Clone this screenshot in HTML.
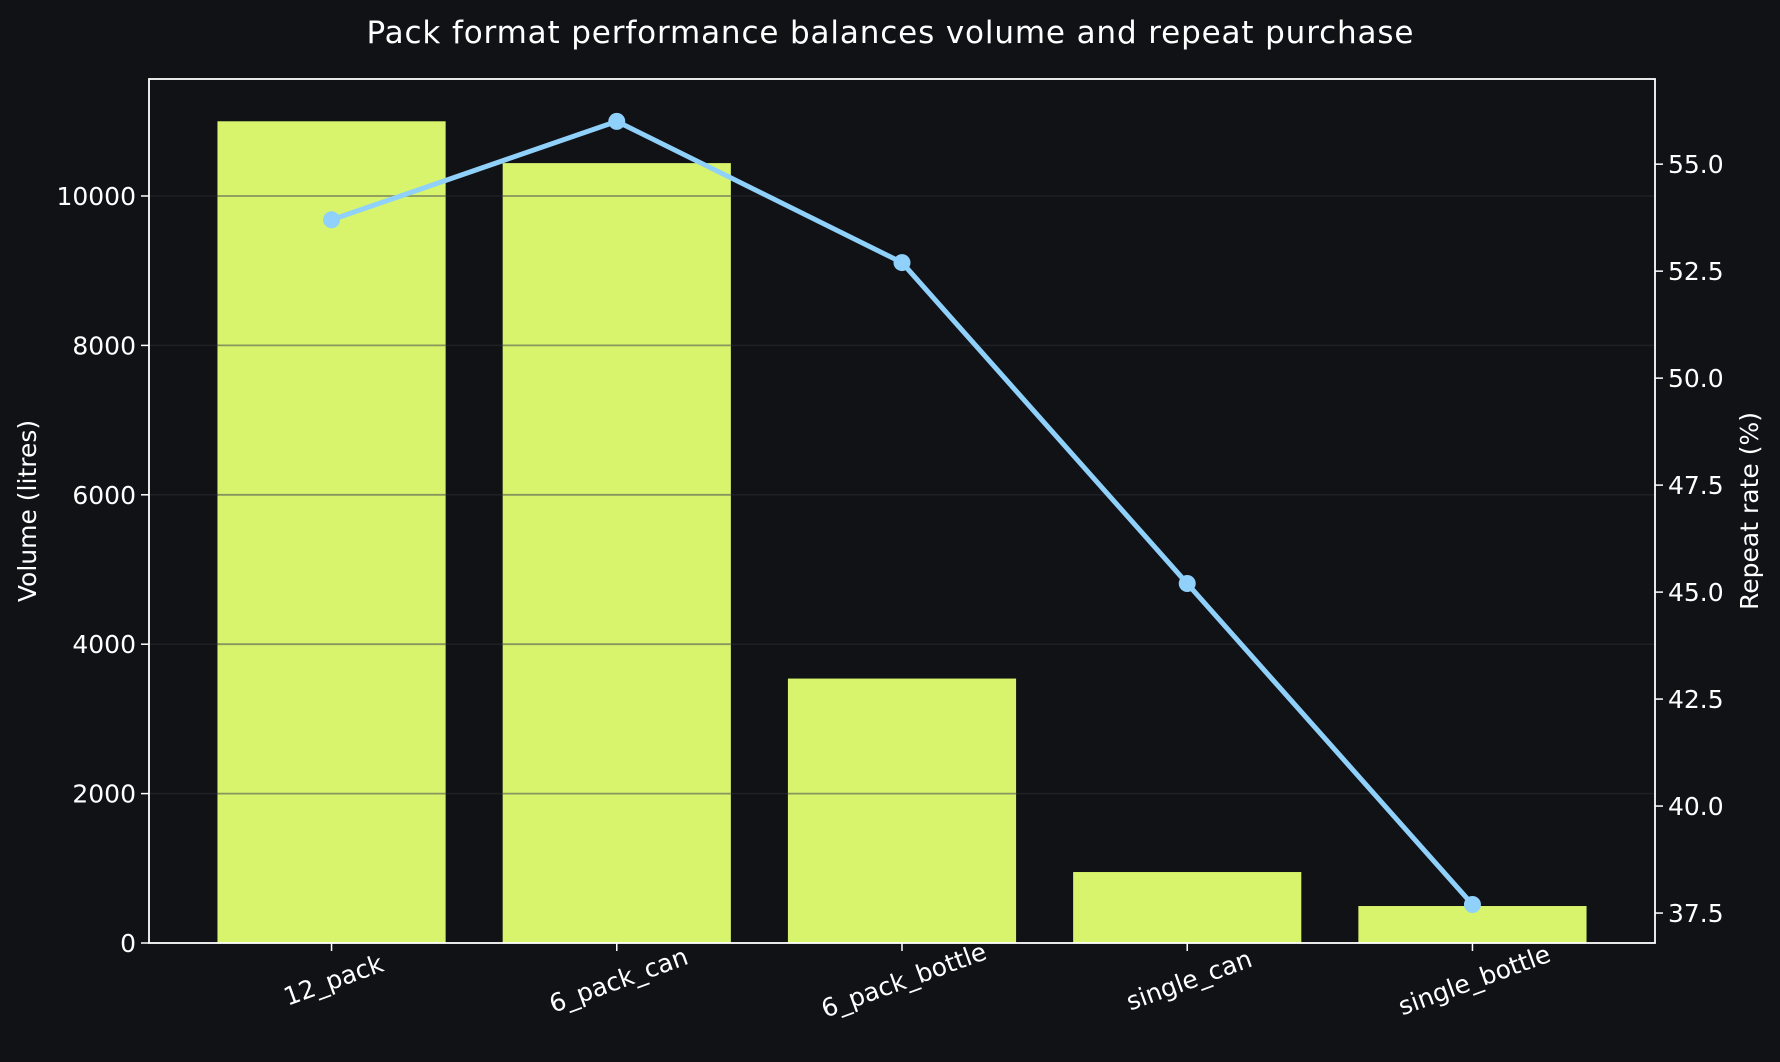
<!DOCTYPE html>
<html><head><meta charset="utf-8"><style>
html,body{margin:0;padding:0;background:#111216;}
svg{display:block;font-family:"DejaVu Sans","Liberation Sans",sans-serif;}
</style></head><body>
<svg id="chart" width="1780" height="1062" viewBox="0 0 1780 1062">
<rect width="1780" height="1062" fill="#111216"/>
<text x="890" y="43" text-anchor="middle" font-size="31" fill="#ffffff" textLength="1047">Pack format performance balances volume and repeat purchase</text>
<g id="grid"></g><g id="bars"></g><g id="gridover"></g><g id="line"></g><g id="axes"></g>
<text transform="translate(36,511) rotate(-90)" text-anchor="middle" font-size="25" fill="#ffffff">Volume (litres)</text>
<text transform="translate(1758,511) rotate(-90)" text-anchor="middle" font-size="25" fill="#ffffff">Repeat rate (%)</text>
</svg>
<script>
const categories=["12_pack","6_pack_can","6_pack_bottle","single_can","single_bottle"];
const volume=[11000,10440,3540,950,495];
const repeatRate=[53.7,56.0,52.7,45.2,37.7];
const leftTicks=[0,2000,4000,6000,8000,10000];
const rightTicks=[37.5,40.0,42.5,45.0,47.5,50.0,52.5,55.0];

const L=149,R=1655,T=79,B=943;
const NS="http://www.w3.org/2000/svg";
const xS=i=>L+(i+0.64)*(R-L)/5.28;
const yL=v=>B-(v/11566)*(B-T);
const yR=v=>B-((v-36.8)/(56.99-36.8))*(B-T);
const bw=0.8*(R-L)/5.28;
function mk(tag,attrs,parent,text){const e=document.createElementNS(NS,tag);for(const k in attrs)e.setAttribute(k,attrs[k]);if(text!==undefined)e.textContent=text;document.getElementById(parent).appendChild(e);return e;}

leftTicks.forEach(v=>{
  const g=mk('line',{x1:L,x2:R,y1:yL(v),y2:yL(v),stroke:'#1f2025','stroke-width':1.5},'grid');
  
  
});
categories.forEach((c,i)=>{
  const r=mk('rect',{x:xS(i)-bw/2,y:yL(volume[i]),width:bw,height:B-yL(volume[i]),fill:'#d7f46c'},'bars');
  
  
});
categories.forEach((c,i)=>{
  leftTicks.forEach(v=>{
    if(v===0||v>volume[i])return;
    const g=mk('line',{x1:xS(i)-bw/2,x2:xS(i)+bw/2,y1:yL(v),y2:yL(v),stroke:'#555', 'stroke-opacity':0.6,'stroke-width':1.8},'gridover');
    
    
  });
});
const pts=repeatRate.map((v,i)=>xS(i)+','+yR(v)).join(' ');
const pl=mk('polyline',{points:pts,fill:'none',stroke:'#8fd1fb','stroke-width':5,'stroke-linejoin':'round'},'line');


repeatRate.forEach((v,i)=>{
  const c=mk('circle',{cx:xS(i),cy:yR(v),r:8.5,fill:'#8fd1fb'},'line');
  
  
});
const fr=mk('rect',{x:L,y:T,width:R-L,height:B-T,fill:'none',stroke:'#ffffff','stroke-width':1.8},'axes');


leftTicks.forEach(v=>{
  const y=yL(v);
  const t=mk('line',{x1:L-8,x2:L,y1:y,y2:y,stroke:'#fff','stroke-width':1.5},'axes');
  
  
  const tx=mk('text',{x:L-13,y:y+9,'text-anchor':'end','font-size':25,fill:'#fff'},'axes',String(v));
  
  
});
rightTicks.forEach(v=>{
  const y=yR(v);
  const t=mk('line',{x1:R,x2:R+8,y1:y,y2:y,stroke:'#fff','stroke-width':1.5},'axes');
  
  
  const tx=mk('text',{x:R+13,y:y+9,'text-anchor':'start','font-size':25,fill:'#fff'},'axes',v.toFixed(1));
  
  
});
categories.forEach((c,i)=>{
  const x=xS(i);
  const t=mk('line',{x1:x,x2:x,y1:B,y2:B+8,stroke:'#fff','stroke-width':1.5},'axes');
  
  
  const tx=mk('text',{x:x,y:B+32,'text-anchor':'middle','font-size':25,fill:'#fff',transform:'rotate(-20 '+x+' '+(B+32)+') translate(0,14)'},'axes',c);
  
  
});
</script>
</body></html>
